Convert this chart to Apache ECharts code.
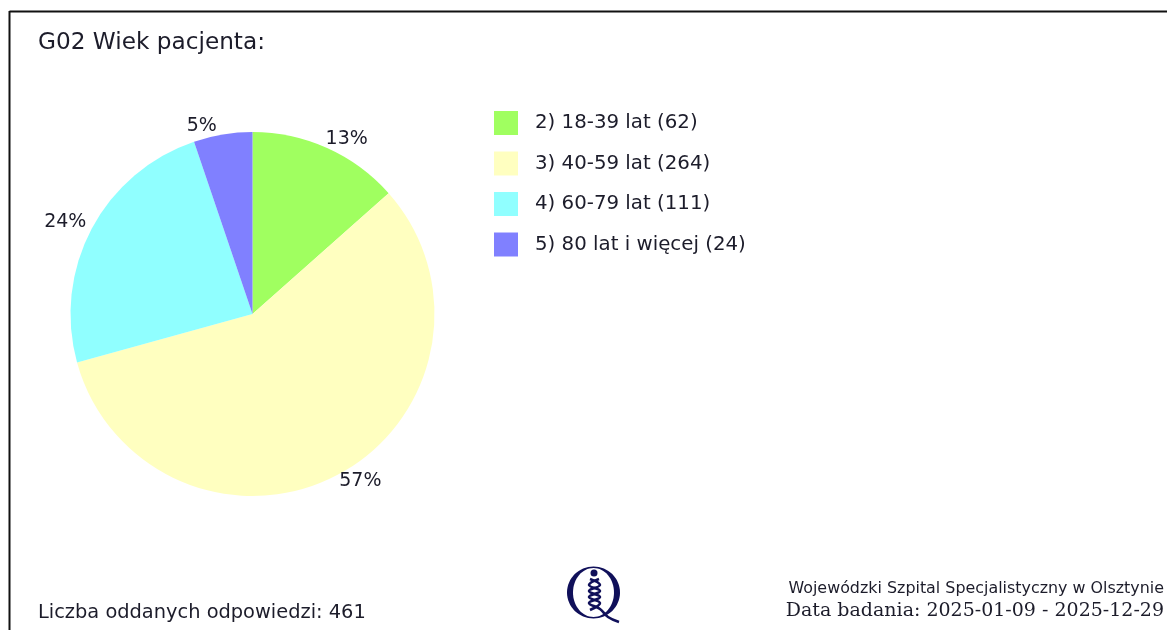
<!DOCTYPE html>
<html>
<head>
<meta charset="utf-8">
<title>G02 Wiek pacjenta</title>
<script src="https://cdn.jsdelivr.net/npm/echarts@6/dist/echarts.min.js"></script>
<style>
  html, body { margin: 0; padding: 0; background: #fff; }
  #chart { width: 1167px; height: 630px; }
</style>
</head>
<body>
<div id="chart"></div>
<script>
const categories = ["2) 18-39 lat", "3) 40-59 lat", "4) 60-79 lat", "5) 80 lat i więcej"];
const values = [62, 264, 111, 24];
const sliceColors = ["#a0ff60", "#ffffc0", "#90ffff", "#8080ff"];
const titleText = "G02 Wiek pacjenta:";
const answersText = "Liczba oddanych odpowiedzi: 461";
const hospitalText = "Wojewódzki Szpital Specjalistyczny w Olsztynie";
const dateText = "Data badania: 2025-01-09 - 2025-12-29";

const textColor = "#1c1c2a";
const font = '"DejaVu Sans", sans-serif';
const logoColor = "#10105a";

// przesuniecia etykiet procentowych
const labelDx = [-9, -8, 5, 0];
const labelDy = [-3, 2, -4, -2];

const chart = echarts.init(document.getElementById("chart"), null, { renderer: "canvas" });

chart.setOption({
  animation: false,
  backgroundColor: "#fff",
  color: sliceColors,
  legend: {
    orient: "vertical",
    left: 489,
    top: 106,
    itemWidth: 24,
    itemHeight: 24,
    itemGap: 16.5,
    icon: "rect",
    selectedMode: false,
    formatter: (name) => name + " (" + values[categories.indexOf(name)] + ")",
    textStyle: { fontFamily: font, fontSize: 19.8, color: textColor, padding: [1, 0, 0, 12] },
  },
  series: [
    {
      type: "pie",
      center: [252.5, 314],
      radius: [0, 182],
      startAngle: 90,
      clockwise: true,
      silent: true,
      data: categories.map((name, i) => ({ name: name, value: values[i] })),
      label: {
        show: true,
        position: "outside",
        formatter: (p) => Math.round(p.percent) + "%",
        fontFamily: font,
        fontSize: 19,
        color: textColor,
      },
      labelLine: { show: false, length: 6, length2: 0 },
      labelLayout: (p) => ({ dx: labelDx[p.dataIndex], dy: labelDy[p.dataIndex] }),
    },
  ],
  graphic: [
    // ramka
    { type: "line", shape: { x1: 9.5, y1: 11.5, x2: 1167, y2: 11.5 }, style: { stroke: "#111", lineWidth: 2 } },
    { type: "line", shape: { x1: 9.5, y1: 11, x2: 9.5, y2: 630 }, style: { stroke: "#111", lineWidth: 2 } },
    { type: "text", x: 38, y: 31, style: { text: titleText, font: "23.2px " + font, fill: textColor } },
    { type: "text", x: 38, y: 603, style: { text: answersText, font: "19.4px " + font, fill: textColor } },
    { type: "text", x: 1164, y: 581, style: { text: hospitalText, align: "right", font: "15.9px " + font, fill: textColor } },
    { type: "text", x: 1164, y: 602, style: { text: dateText, align: "right", font: '19px "DejaVu Serif", serif', fill: textColor } },
    // logo
    { type: "ellipse", shape: { cx: 593.5, cy: 592.5, rx: 26.5, ry: 26 }, style: { fill: logoColor } },
    { type: "ellipse", shape: { cx: 593.5, cy: 592.5, rx: 20.5, ry: 24.5 }, style: { fill: "#fff" } },
    { type: "circle", shape: { cx: 594, cy: 573, r: 3.5 }, style: { fill: logoColor } },
    { type: "polyline", shape: { points: [[590, 579], [600, 585], [589, 591], [600, 597], [589, 603], [600, 609], [608, 617], [619, 622]], smooth: 0.4 }, style: { fill: "none", stroke: logoColor, lineWidth: 2.6 } },
    { type: "polyline", shape: { points: [[599, 579], [589, 585], [600, 591], [589, 597], [600, 603], [590, 610]], smooth: 0.4 }, style: { fill: "none", stroke: logoColor, lineWidth: 2.6 } },
  ],
});
</script>
</body>
</html>
